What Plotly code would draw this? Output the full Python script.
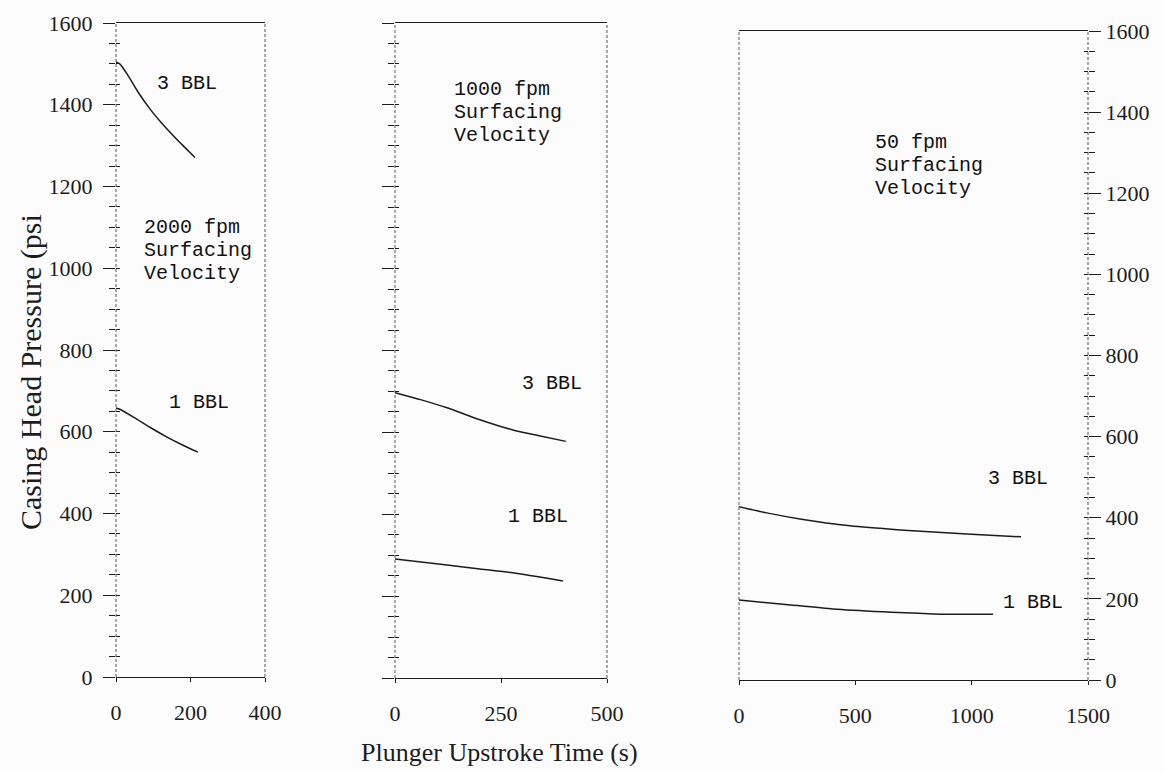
import plotly.graph_objects as go

# ---- data: casing head pressure (psi) vs plunger upstroke time (s) ----
# 2000 fpm surfacing velocity
t_2000_3bbl = [0, 10, 30, 60, 91, 120, 150, 180, 212]
p_2000_3bbl = [1505, 1500, 1475, 1430, 1390, 1358, 1328, 1300, 1271]
t_2000_1bbl = [0, 10, 50, 91, 137, 180, 220]
p_2000_1bbl = [658, 655, 634, 611, 587, 567, 550]

# 1000 fpm surfacing velocity
t_1000_3bbl = [0, 60, 123, 200, 278, 340, 403]
p_1000_3bbl = [697, 680, 660, 631, 606, 592, 578]
t_1000_1bbl = [0, 123, 200, 278, 396]
p_1000_1bbl = [291, 276, 266, 257, 237]

# 50 fpm surfacing velocity
t_50_3bbl = [0, 119, 262, 477, 692, 979, 1212]
p_50_3bbl = [427, 412, 397, 380, 370, 360, 353]
t_50_1bbl = [0, 189, 404, 619, 834, 1092]
p_50_1bbl = [197, 187, 175, 168, 163, 162]

# tick labels
pressure_ticks = [0, 200, 400, 600, 800, 1000, 1200, 1400, 1600]
time_ticks_2000 = [0, 200, 400]
time_ticks_1000 = [0, 250, 500]
time_ticks_50 = [0, 500, 1000, 1500]

# panel captions
caption_2000 = ["2000 fpm", "Surfacing", "Velocity"]
caption_1000 = ["1000 fpm", "Surfacing", "Velocity"]
caption_50 = ["50 fpm", "Surfacing", "Velocity"]

INK = "#1c1c1c"
SERIF = "Liberation Serif"
MONO = "Liberation Mono"

fig = go.Figure()

def curve(x, y, xa, ya):
    fig.add_trace(go.Scatter(x=x, y=y, xaxis=xa, yaxis=ya, mode="lines",
                             line=dict(color=INK, width=1.5, shape="spline",
                                       smoothing=0.6),
                             showlegend=False, hoverinfo="skip"))

curve(t_2000_3bbl, p_2000_3bbl, "x", "y")
curve(t_2000_1bbl, p_2000_1bbl, "x", "y")
curve(t_1000_3bbl, p_1000_3bbl, "x2", "y2")
curve(t_1000_1bbl, p_1000_1bbl, "x2", "y2")
curve(t_50_3bbl, p_50_3bbl, "x3", "y3")
curve(t_50_1bbl, p_50_1bbl, "x3", "y3")

# empty traces so the inner-tick overlay axes are drawn
for xa, ya in [("x", "y4"), ("x2", "y5"), ("x3", "y6")]:
    fig.add_trace(go.Scatter(x=[], y=[], xaxis=xa, yaxis=ya, showlegend=False))

tickfont = dict(family=SERIF, size=22, color=INK)

def xaxis_cfg(domain, rng, ticks, anchor):
    return dict(domain=domain, range=rng, tickvals=ticks, anchor=anchor,
                showline=True, mirror=True, linecolor=INK, linewidth=1.3,
                ticks="outside", ticklen=4, tickcolor=INK, tickwidth=1,
                tickfont=tickfont, ticklabelstandoff=11, automargin=False,
                showgrid=False, zeroline=False, fixedrange=True)

def yaxis_cfg(domain, anchor, labels, side="left", standoff=6):
    return dict(domain=domain, range=[0, 1600], anchor=anchor, side=side,
                tickvals=pressure_ticks, showticklabels=labels,
                ticks="outside", ticklen=12, tickcolor=INK, tickwidth=1,
                minor=dict(dtick=50, ticks="outside", ticklen=6,
                           tickcolor=INK, tickwidth=1),
                tickfont=tickfont, ticklabelstandoff=standoff, automargin=False,
                showline=False, showgrid=False, zeroline=False, fixedrange=True)

def inner_ticks(over, anchor, side="left"):
    return dict(overlaying=over, anchor=anchor, side=side, range=[0, 1600],
                dtick=50, ticks="inside", ticklen=4, tickcolor=INK, tickwidth=1,
                showticklabels=False, showline=False, showgrid=False,
                automargin=False, zeroline=False, fixedrange=True)

dom_x1 = [116 / 1164, 265 / 1164]
dom_x2 = [395 / 1164, 607 / 1164]
dom_x3 = [739 / 1164, 1088 / 1164]
dom_y1 = [1 - 677 / 772, 1 - 23 / 772]
dom_y2 = [1 - 678 / 772, 1 - 23 / 772]
dom_y3 = [1 - 680 / 772, 1 - 31 / 772]

fig.update_layout(
    width=1164, height=772,
    margin=dict(l=0, r=0, t=0, b=0, pad=0, autoexpand=False),
    paper_bgcolor="#fcfcfc", plot_bgcolor="rgba(0,0,0,0)",
    showlegend=False,
    xaxis=xaxis_cfg(dom_x1, [0, 400], time_ticks_2000, "y"),
    xaxis2=xaxis_cfg(dom_x2, [0, 500], time_ticks_1000, "y2"),
    xaxis3=xaxis_cfg(dom_x3, [0, 1500], time_ticks_50, "y3"),
    yaxis=yaxis_cfg(dom_y1, "x", True),
    yaxis2=yaxis_cfg(dom_y2, "x2", False),
    yaxis3=yaxis_cfg(dom_y3, "x3", True, side="right", standoff=0),
    yaxis4=inner_ticks("y", "x"),
    yaxis5=inner_ticks("y2", "x2"),
    yaxis6=inner_ticks("y3", "x3", side="right"),
)

# dashed vertical frame lines of each panel
frame = [("x", "y", 0), ("x", "y", 1), ("x2", "y2", 0), ("x2", "y2", 1),
         ("x3", "y3", 0), ("x3", "y3", 1)]
for xa, ya, side in frame:
    fig.add_shape(type="line", xref=f"{xa} domain", yref=f"{ya} domain",
                  x0=side, x1=side, y0=0, y1=1,
                  line=dict(color="#555555", width=1, dash="3px,2px"))

labfont = dict(family=MONO, size=20, color="#111111")

def label(text, x, y, xa, ya, shift=0):
    fig.add_annotation(text=text, x=x, y=y, xref=xa, yref=ya,
                       xanchor="left", yanchor="middle", yshift=shift,
                       showarrow=False, font=labfont)

def caption(lines, x, y, xa, ya):
    for i, line in enumerate(lines):
        label(line, x, y, xa, ya, shift=-23 * i)

label("3 BBL", 105, 1452, "x", "y")
label("1 BBL", 137, 672, "x", "y")
caption(caption_2000, 70, 1100, "x", "y")

label("3 BBL", 295, 719, "x2", "y2")
label("1 BBL", 262, 394, "x2", "y2")
caption(caption_1000, 134, 1438, "x2", "y2")

label("3 BBL", 1061, 496, "x3", "y3")
label("1 BBL", 1126, 190, "x3", "y3")
caption(caption_50, 576, 1326, "x3", "y3")

# axis titles
fig.add_annotation(text="Casing Head Pressure (psi", x=31 / 1164, y=1 - 372 / 772,
                   xref="paper", yref="paper", textangle=-90, showarrow=False,
                   xanchor="center", yanchor="middle",
                   font=dict(family=SERIF, size=30, color=INK))
fig.add_annotation(text="Plunger Upstroke Time (s)", x=500 / 1164, y=1 - 752 / 772,
                   xref="paper", yref="paper", showarrow=False,
                   xanchor="center", yanchor="middle",
                   font=dict(family=SERIF, size=26, color=INK))

fig.write_html("out.html")
